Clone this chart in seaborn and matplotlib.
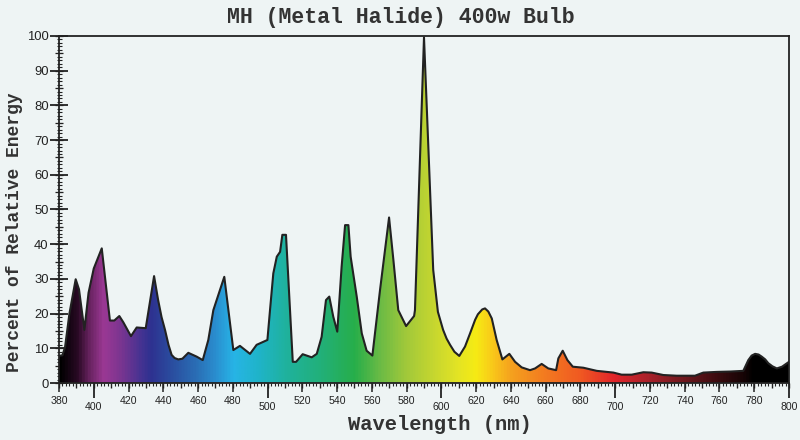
import numpy as np
import pandas as pd
import matplotlib
matplotlib.use("Agg")
import matplotlib.pyplot as plt
import seaborn as sns
from matplotlib.colors import LinearSegmentedColormap
from matplotlib.ticker import FixedLocator, MultipleLocator, FuncFormatter

# ---- data ----
wavelength = [380, 382, 383.5, 386, 389.6, 391.5, 394.6, 397, 400, 404.6, 409.3, 411.8,
              414.7, 417, 421.4, 424.7, 429.9, 434.7, 437, 439, 441, 443, 444.8, 446.5,
              448.6, 451, 454.4, 459.2, 462.7, 465.9, 468.8, 475.1, 480.3, 484.1, 489.9,
              493.7, 499.9, 501.4, 503.3, 505.3, 507.2, 508.5, 510.6, 514.5, 516.4, 520.2,
              525.4, 528.3, 531.1, 533.6, 535.5, 537.8, 540.1, 542.6, 544.6, 546.5, 547.8,
              551.3, 554.2, 557.0, 560.3, 564.7, 569.9, 572.4, 575.2, 579.7, 584.3, 584.8,
              590.0, 595.3, 598.0, 601.0, 603.0, 605.0, 607.5, 610.3, 613.6, 616.5, 619.4,
              621.0, 623.5, 625.1, 627.0, 629.0, 631.8, 635.1, 639.1, 642.4, 646.2, 651.0,
              653.9, 657.7, 661.5, 666.0, 667.3, 669.8, 672.5, 675.6, 681.7, 689.4, 699.0,
              703.7, 709.5, 716.2, 721.0, 727.7, 735.4, 745.9, 750.7, 758.4, 766.1, 773.7,
              776.6, 778.5, 780.5, 782.5, 784.3, 786.3, 788.1, 790.5, 793.0, 796.0, 800]
energy = [7.8, 8.0, 10.4, 20.0, 29.9, 27.0, 15.3, 26.0, 33.0, 38.8, 18.0, 18.0,
          19.3, 17.5, 13.5, 16.0, 15.8, 30.8, 24.0, 19.0, 15.3, 11.0, 8.1, 7.2,
          6.8, 7.0, 8.7, 7.6, 6.6, 12.4, 21.0, 30.6, 9.5, 10.7, 8.4,
          11.0, 12.4, 21.0, 31.6, 36.4, 37.8, 42.7, 42.7, 6.1, 6.1, 8.3,
          7.4, 8.4, 13.3, 23.9, 24.9, 19.1, 14.8, 33.5, 45.5, 45.5, 36.4,
          24.9, 14.3, 9.3, 7.9, 26.8, 47.7, 35.4, 21.0, 16.4, 19.3, 21.0,
          99.6, 32.6, 20.5, 15.3, 12.8, 11.0, 9.0, 7.8, 10.5, 14.3, 18.2,
          19.8, 21.2, 21.5, 20.6, 18.6, 12.4, 6.8, 8.4, 6.1, 4.5, 3.7,
          4.2, 5.5, 4.2, 3.7, 7.1, 9.3, 6.6, 4.7, 4.4, 3.5, 3.0,
          2.4, 2.4, 3.1, 3.0, 2.3, 2.1, 2.1, 3.0, 3.2, 3.3, 3.5,
          6.6, 7.9, 8.4, 8.2, 7.6, 6.8, 5.7, 4.8, 4.2, 4.7, 6.1]

x_major = [400, 500, 600, 700, 800]
x_labeled_minor = [380, 420, 440, 460, 480, 520, 540, 560, 580, 620, 640, 660, 680,
                   720, 740, 760, 780]
y_ticks = list(range(0, 101, 10))

title = "MH (Metal Halide) 400w Bulb"
xlabel = "Wavelength (nm)"
ylabel = "Percent of Relative Energy"

# spectrum colour stops
stop_wl = [380, 390, 397, 405, 415, 425, 432, 445, 460, 470, 480, 495, 510, 530, 550,
           565, 580, 595, 610, 620, 630, 640, 660, 680, 700, 720, 740, 760, 775, 780, 800]
stop_col = ["#000000", "#2a0a25", "#6a2462", "#9b3894", "#7a3590", "#4c3392", "#2e3190",
            "#2a4fa0", "#2a72b8", "#2a8fd0", "#27b4e6", "#1fb4c8", "#1fb29e", "#22b07a",
            "#27ae4a", "#6cbb45", "#a2c93a", "#c5d630", "#e4e424", "#f6eb14", "#f9c71a",
            "#f5a21e", "#f37a20", "#f05a22", "#e2252a", "#a8212a", "#70181e", "#3a0b0f",
            "#150405", "#000000", "#000000"]

BG = "#eef4f4"
INK = "#222222"

sns.set_theme(style="ticks")
plt.rcParams["font.family"] = ["Liberation Sans", "DejaVu Sans"]

df = pd.DataFrame({"wavelength": wavelength, "energy": energy})

fig = plt.figure(figsize=(8, 4.4), dpi=100, facecolor=BG)
ax = fig.add_axes([59 / 800, 1 - 383 / 440, 730 / 800, 347 / 440])
ax.set_facecolor(BG)

# gradient fill clipped to the area under the curve
poly = ax.fill_between(df["wavelength"], 0, df["energy"], facecolor="none",
                       edgecolor="none")
cmap = LinearSegmentedColormap.from_list(
    "spectrum", [((w - 380) / 420, c) for w, c in zip(stop_wl, stop_col)])
xs = np.linspace(380, 800, 1500)
img = ax.imshow(xs[np.newaxis, :], extent=[380, 800, 0, 100], aspect="auto",
                cmap=cmap, vmin=380, vmax=800, origin="lower", zorder=1,
                interpolation="bilinear")
img.set_clip_path(poly.get_paths()[0], transform=ax.transData)

sns.lineplot(data=df, x="wavelength", y="energy", color=INK, linewidth=1.5,
             ax=ax, zorder=3, sort=True)

ax.set_xlim(380, 800)
ax.set_ylim(0, 100)
ax.set_xlabel("")
ax.set_ylabel("")

for s in ax.spines.values():
    s.set_visible(True)
    s.set_color(INK)
    s.set_linewidth(1.3)

# x ticks
ax.xaxis.set_major_locator(FixedLocator(x_major))
ax.xaxis.set_minor_locator(FixedLocator(x_labeled_minor))
ax.xaxis.set_major_formatter(FuncFormatter(lambda v, p: f"{v:.0f}"))
ax.xaxis.set_minor_formatter(FuncFormatter(lambda v, p: f"{v:.0f}"))
ax.tick_params(axis="x", which="major", direction="out", length=10.5, width=1.3,
               color=INK, labelsize=7.6, labelcolor=INK, pad=3.0)
ax.tick_params(axis="x", which="minor", direction="out", length=6.5, width=1.1,
               color=INK, labelsize=7.6, labelcolor=INK, pad=3.0)

sec = ax.secondary_xaxis("bottom")
sec.xaxis.set_major_locator(MultipleLocator(10))
sec.xaxis.set_minor_locator(MultipleLocator(2))
sec.tick_params(axis="x", which="major", direction="out", length=3.8, width=1.0,
                color=INK, labelbottom=False)
sec.tick_params(axis="x", which="minor", direction="out", length=2.2, width=0.8,
                color=INK, labelbottom=False)
sec.spines["bottom"].set_visible(False)

# y ticks
ax.yaxis.set_major_locator(FixedLocator(y_ticks))
ax.yaxis.set_minor_locator(MultipleLocator(1))
ax.yaxis.set_major_formatter(FuncFormatter(lambda v, p: f"{v:.0f}"))
ax.tick_params(axis="y", which="major", direction="inout", length=13, width=1.3,
               color=INK, labelsize=9.4, labelcolor=INK, pad=1.0)
ax.tick_params(axis="y", which="minor", direction="inout", length=3.6, width=0.8,
               color=INK)
secy = ax.secondary_yaxis("left")
secy.yaxis.set_major_locator(MultipleLocator(5))
secy.yaxis.set_minor_locator(FixedLocator([]))
secy.tick_params(axis="y", which="major", direction="inout", length=6, width=0.9,
                 color=INK, labelleft=False)
secy.spines["left"].set_visible(False)

# texts
mono = ["Liberation Mono", "DejaVu Sans Mono"]
fig.text(401 / 800, 1 - 17.5 / 440, title, ha="center", va="center",
         family=mono, fontweight="bold", fontsize=15.5, color="#333333")
fig.text(439.5 / 800, 1 - 424.5 / 440, xlabel, ha="center", va="center",
         family=mono, fontweight="bold", fontsize=14.8, color="#333333")
fig.text(15 / 800, 1 - 232 / 440, ylabel, ha="center", va="center", rotation=90,
         family=mono, fontweight="bold", fontsize=13, color="#333333")

fig.savefig("out.png", dpi=100, facecolor=BG)
